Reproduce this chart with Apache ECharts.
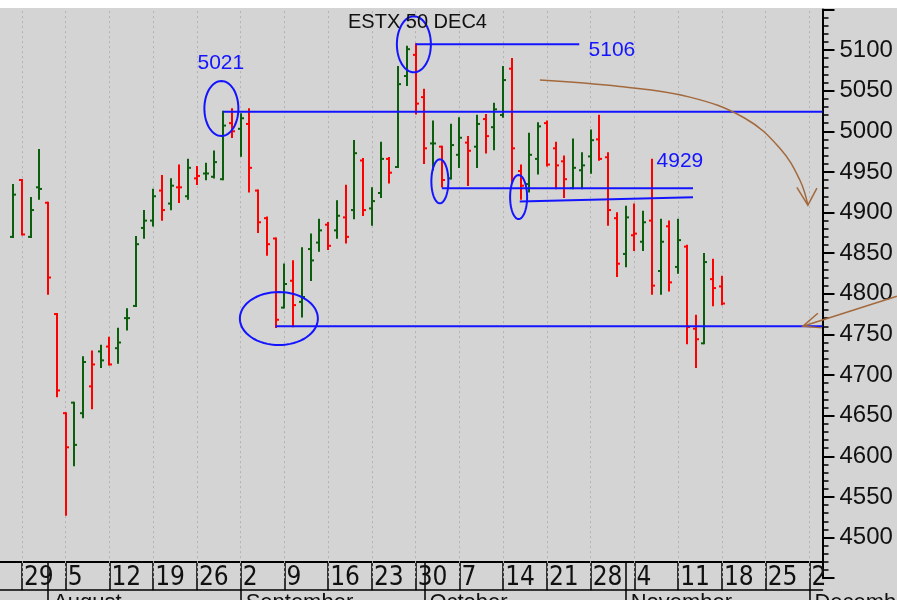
<!DOCTYPE html>
<html>
<head>
<meta charset="utf-8">
<script src="https://cdn.jsdelivr.net/npm/echarts@6/dist/echarts.min.js"></script>
<style>
  html, body { margin: 0; padding: 0; background: #d4d4d4; }
  #chart { width: 897px; height: 600px; }
</style>
</head>
<body>
<div id="chart"></div>
<script>
// trading days on the time axis (2024)
const categories = [
  '07-25','07-26','07-29','07-30','07-31',
  '08-01','08-02','08-05','08-06','08-07','08-08','08-09','08-12','08-13','08-14','08-15','08-16',
  '08-19','08-20','08-21','08-22','08-23','08-26','08-27','08-28','08-29','08-30',
  '09-02','09-03','09-04','09-05','09-06','09-09','09-10','09-11','09-12','09-13','09-16','09-17',
  '09-18','09-19','09-20','09-23','09-24','09-25','09-26','09-27','09-30',
  '10-01','10-02','10-03','10-04','10-07','10-08','10-09','10-10','10-11','10-14','10-15','10-16',
  '10-17','10-18','10-21','10-22','10-23','10-24','10-25','10-28','10-29','10-30','10-31',
  '11-01','11-04','11-05','11-06','11-07','11-08','11-11','11-12','11-13','11-14','11-15','11-18',
  '11-19','11-20','11-21','11-22','11-25','11-26','11-27','11-28','11-29',
  '12-02','12-03'
]

// week ticks and month row
const weekStarts = ['07-29','08-05','08-12','08-19','08-26','09-02','09-09','09-16','09-23','09-30',
  '10-07','10-14','10-21','10-28','11-04','11-11','11-18','11-25','12-02']
const monthStarts = ['08-01','09-02','10-01','11-01','12-02']
const monthNames = ['August','September','October','November','December']

// daily bars 07-26 .. 11-18
const barDates = categories.slice(1, 83)
const opens = [4870,4940,4870,4931,4912,4775,4653,4666,4653,4686,4729,4735,4733,4770,4785,4881,
  4890,4927,4911,4931,4920,4942,4948,4944,4941,5010,5003,5009,4927,4893,4868,4783,4816,4790,
  4855,4863,4885,4878,4894,4903,4964,4905,4924,4966,4956,5068,5094,5042,4985,4981,4942,4971,
  4986,4981,5015,5005,5020,5077,4951,4935,4966,5010,4979,4963,4930,4952,4969,4990,4968,4893,
  4849,4872,4864,4890,4828,4883,4833,4858,4757,4739,4818,4809]
const highs = [4934,4940,4918,4977,4912,4775,4653,4666,4722,4729,4736,4746,4757,4781,4870,4902,
  4928,4945,4941,4958,4965,4956,4960,4975,5024,5027,5021,5027,4927,4894,4868,4836,4840,4856,
  4873,4891,4887,4914,4933,4988,4966,4930,4986,4967,5079,5104,5107,5051,5012,4981,5008,5016,
  4993,5019,5020,5034,5079,5089,4958,4997,5010,5012,4986,4969,4990,4973,5001,5019,4973,4899,
  4907,4910,4901,4965,4891,4889,4891,4859,4773,4849,4842,4821]
const lows = [4870,4873,4870,4917,4800,4674,4528,4589,4648,4659,4710,4713,4715,4756,4785,4869,
  4884,4891,4904,4913,4917,4935,4941,4943,4941,4993,4970,4926,4876,4848,4759,4783,4760,4772,
  4817,4853,4855,4869,4863,4893,4897,4885,4919,4937,4956,5057,5022,4961,4953,4932,4942,4956,
  4934,4956,4974,4978,5018,4938,4917,4926,4948,4958,4930,4919,4930,4930,4949,4965,4885,4822,
  4834,4854,4854,4800,4800,4804,4826,4739,4710,4739,4786,4787]
const closes = [4922,4873,4903,4929,4820,4681,4611,4614,4716,4713,4718,4713,4740,4770,4861,4890,
  4920,4903,4933,4931,4955,4945,4948,4962,5007,5000,5016,4955,4888,4861,4768,4812,4786,4796,
  4841,4878,4859,4896,4870,4973,4903,4914,4966,4949,5058,5101,5034,4979,4985,4940,4983,4992,
  4976,5009,4994,5027,5063,4979,4933,4971,5006,4959,4958,4941,4955,4958,4989,4966,4903,4837,
  4894,4874,4888,4810,4864,4814,4866,4759,4744,4839,4807,4788]

// hand-drawn annotations, in [category index, price]
const levelLines = [
  [25, 5024, null, 5024],
  [47, 5107, 65.7, 5107],
  [31, 4760, null, 4760],
  [50, 4930, 78.7, 4930],
  [58.9, 4913.5, 78.7, 4918.7]
]
const ellipses = [ // [index, price, rx px, ry px]
  [24.8, 5028, 17, 27.5],
  [46.8, 5107, 17, 28],
  [31.37, 4769.5, 39, 26.5],
  [49.77, 4938.4, 8.5, 22],
  [58.77, 4919, 8.5, 22]
]
const notes = [
  [24.74, 5084, '5021'],
  [69.43, 5100, '5106'],
  [77.2, 4963, '4929']
]
const arrowCurve = [[61.2, 5063], [70.34, 5055], [78.34, 5042], [84.63, 5016], [88.63, 4979], [90.91, 4940], [91.83, 4909]]
const arrowHead1 = [[90.57, 4931], [91.83, 4909], [92.86, 4930]]
const arrowLine = [[102, 4797], [91.26, 4760]]
const arrowHead2 = [[92.97, 4776], [91.26, 4760], [93.43, 4758]]

const UP = '#0b5e0b'
const DOWN = '#ff0000'
const BLUE = '#1414ff'
const BROWN = '#a3693d'

const bars = barDates.map((d, i) => {
  const prev = i > 0 ? closes[i - 1] : opens[i]
  return [d, opens[i], highs[i], lows[i], closes[i], closes[i] >= prev ? 1 : 0]
})

const chart = echarts.init(document.getElementById('chart'))

// convert fractional category index + price to pixels
const toPx = (api, idx, v) => {
  const i0 = Math.max(0, Math.min(categories.length - 1, Math.floor(idx)))
  const p = api.coord([i0, v])
  const band = api.size([1, 0])[0]
  return [p[0] + (idx - i0) * band, p[1]]
}

const renderBar = (params, api) => {
  const d = api.value(0)
  const x = Math.round(api.coord([d, 0])[0])
  const yO = api.coord([d, api.value(1)])[1]
  const yH = api.coord([d, api.value(2)])[1]
  const yL = api.coord([d, api.value(3)])[1]
  const yC = api.coord([d, api.value(4)])[1]
  const style = { stroke: api.value(5) ? UP : DOWN, lineWidth: 2 }
  return {
    type: 'group',
    children: [
      { type: 'line', shape: { x1: x, y1: yH - 1, x2: x, y2: yL + 1 }, style },
      { type: 'line', shape: { x1: x - 3, y1: yO, x2: x, y2: yO }, style },
      { type: 'line', shape: { x1: x, y1: yC, x2: x + 3, y2: yC }, style }
    ]
  }
}

const renderNotes = (params, api) => {
  const cs = params.coordSys
  const children = []
  levelLines.forEach(l => {
    const a = toPx(api, l[0], l[1])
    const b = l[2] == null ? [cs.x + cs.width, api.coord([0, l[3]])[1]] : toPx(api, l[2], l[3])
    children.push({ type: 'line', shape: { x1: a[0], y1: a[1], x2: b[0], y2: b[1] }, style: { stroke: BLUE, lineWidth: 2 } })
  })
  ellipses.forEach(e => {
    const c = toPx(api, e[0], e[1])
    const pts = []
    for (let k = 0; k < 64; k++) {
      const t = k / 64 * Math.PI * 2
      pts.push([c[0] + e[2] * Math.cos(t), c[1] + e[3] * Math.sin(t)])
    }
    children.push({ type: 'polygon', shape: { points: pts }, style: { fill: null, stroke: BLUE, lineWidth: 2 } })
  })
  notes.forEach(n => {
    const p = toPx(api, n[0], n[1])
    children.push({ type: 'text', x: p[0], y: p[1], style: { text: n[2], fill: BLUE, fontSize: 21, fontFamily: 'Liberation Sans, Arial, sans-serif', align: 'center', verticalAlign: 'middle' } })
  })
  const brown = (pts, smooth) => children.push({
    type: 'polyline',
    shape: { points: pts.map(p => toPx(api, p[0], p[1])), smooth: smooth ? 0.4 : 0 },
    style: { fill: null, stroke: BROWN, lineWidth: 1.5 }
  })
  brown(arrowCurve, true)
  brown(arrowHead1)
  brown(arrowLine)
  brown(arrowHead2)
  return { type: 'group', children }
}

const isWeek = (i, v) => weekStarts.includes(v)
const isMonth = (i, v) => monthStarts.includes(v)
const labelFont = "'Liberation Sans Narrow', 'Arial Narrow', 'DejaVu Sans Condensed', sans-serif"

const option = {
  backgroundColor: '#d4d4d4',
  animation: false,
  title: {
    text: 'ESTX 50 DEC4',
    left: 343,
    top: 7,
    textStyle: { fontSize: 20, fontWeight: 'normal', color: '#111', fontFamily: 'Liberation Sans, Arial, sans-serif' }
  },
  graphic: [
    { type: 'rect', left: 0, top: 0, shape: { width: 897, height: 8 }, style: { fill: '#ffffff' }, z: 100 }
  ],
  grid: { left: 0, right: 74.5, top: 9.375, bottom: 21.875, containLabel: false, outerBoundsMode: 'none' },
  xAxis: [
    {
      type: 'category',
      data: categories,
      boundaryGap: true,
      position: 'bottom',
      offset: -16,
      axisLine: { lineStyle: { color: '#000', width: 2 } },
      axisTick: { show: true, alignWithLabel: true, interval: isWeek, length: 28, lineStyle: { color: '#000', width: 1.5 } },
      axisLabel: {
        interval: isWeek,
        formatter: v => String(parseInt(v.slice(3), 10)),
        align: 'left',
        padding: [0, 0, 0, 2],
        margin: 3,
        fontSize: 26,
        fontFamily: labelFont,
        color: '#111'
      },
      splitLine: { show: false }
    },
    {
      type: 'category',
      data: categories,
      position: 'bottom',
      offset: -16,
      axisLine: { show: false },
      axisTick: { show: true, alignWithLabel: true, interval: isMonth, length: 40, lineStyle: { color: '#000', width: 1.5 } },
      axisLabel: {
        interval: isMonth,
        formatter: v => monthNames[monthStarts.indexOf(v)],
        align: 'left',
        padding: [0, 0, 0, 5],
        margin: 30,
        fontSize: 22,
        fontFamily: 'Liberation Sans, Arial, sans-serif',
        color: '#111'
      },
      splitLine: { show: false }
    },
    {
      type: 'category',
      data: categories,
      position: 'bottom',
      offset: 12,
      axisLine: { lineStyle: { color: '#000', width: 1.5 } },
      axisTick: { show: false },
      axisLabel: { show: false },
      splitLine: { show: false }
    }
  ],
  yAxis: {
    type: 'value',
    position: 'right',
    min: 4450,
    max: 5150,
    interval: 50,
    axisLine: { show: true, lineStyle: { color: '#000', width: 2 } },
    axisTick: { show: true, length: 12, lineStyle: { color: '#000', width: 2 } },
    minorTick: { show: true, splitNumber: 5, length: 6, lineStyle: { color: '#000', width: 1.5 } },
    axisLabel: {
      showMinLabel: false,
      showMaxLabel: false,
      margin: 17,
      fontSize: 24,
      fontFamily: 'Liberation Sans, Arial, sans-serif',
      color: '#111',
      formatter: v => String(v)
    },
    splitLine: { show: false }
  },
  series: [
    {
      type: 'line',
      data: [],
      z: 1,
      markLine: {
        silent: true,
        z: 1,
        symbol: ['none', 'none'],
        label: { show: false },
        lineStyle: { color: '#b2b2b2', type: [2, 3], width: 1 },
        data: weekStarts.map(d => ({ xAxis: d }))
      }
    },
    {
      type: 'custom',
      renderItem: renderBar,
      data: bars,
      encode: { x: 0, y: [1, 2, 3, 4] },
      z: 3
    },
    {
      type: 'custom',
      renderItem: renderNotes,
      data: [[0, 4800]],
      clip: false,
      silent: true,
      z: 5
    }
  ]
}

chart.setOption(option)
window.addEventListener('resize', () => chart.resize())
</script>
</body>
</html>
